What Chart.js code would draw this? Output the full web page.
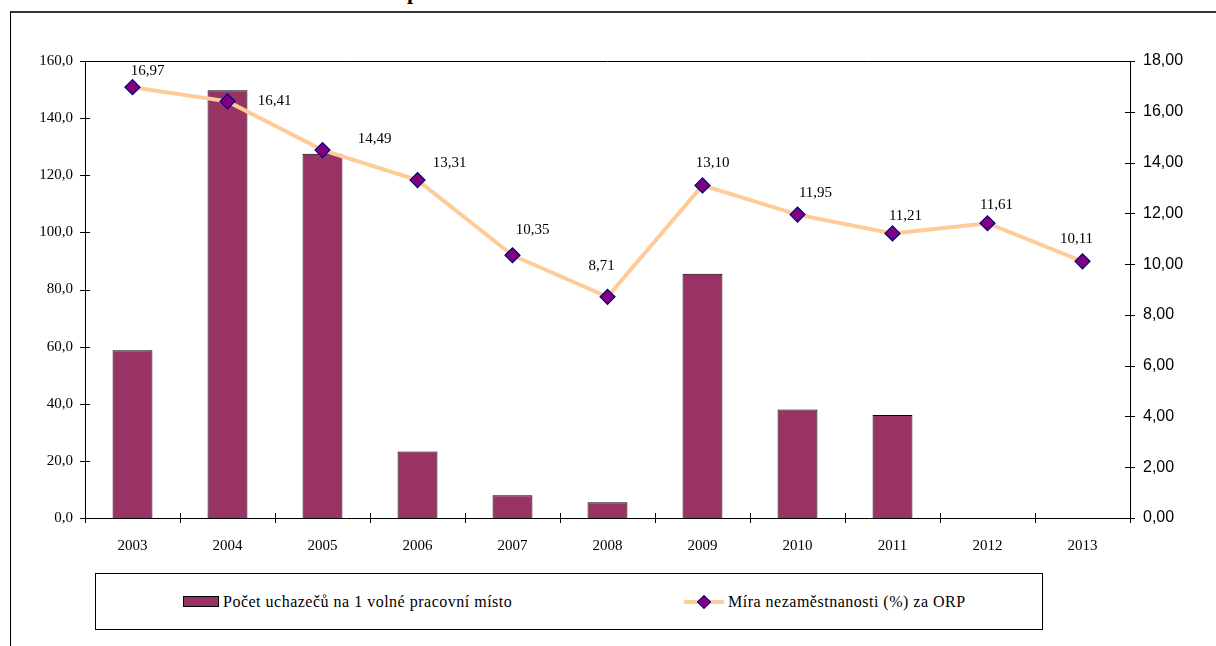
<!DOCTYPE html>
<html>
<head>
<meta charset="utf-8">
<script src="https://cdn.jsdelivr.net/npm/chart.js@4.4.1/dist/chart.umd.min.js"></script>
<style>
  body { margin: 0; background: #fff; font-family: "Liberation Serif", serif; overflow: hidden; }
  #wrap { position: relative; width: 1216px; height: 646px; overflow: hidden; }
  #frame { position: absolute; left: 10px; top: 11px; width: 1206px; height: 640px;
           border-left: 1px solid #000; border-top: 2px solid #333; }
  #title { position: absolute; left: 407px; top: -21px; font: bold 22px "Liberation Serif", serif; }
  #chart { position: absolute; left: 0; top: 0; }
  #legend { position: absolute; left: 95px; top: 573px; width: 946px; height: 55px;
            border: 1px solid #000; background: #fff; font: 16px "Liberation Serif", serif; letter-spacing: 0.5px; }
  .item { position: absolute; top: 0; height: 55px; display: flex; align-items: center; }
  .barsw { width: 34px; height: 9px; border: 1px solid #000; margin-right: 4px; }
  .linesw { position: relative; width: 40px; height: 10px; margin-right: 4px; }
  .linesw .ln { position: absolute; left: 0; right: 0; top: 3px; height: 4px; }
  .linesw .dm { position: absolute; left: 15px; top: 0px; width: 8px; height: 8px;
                transform: rotate(45deg); border: 1px solid #000080; }
</style>
</head>
<body>
<div id="wrap">
  <div id="title">p</div>
  <div id="frame"></div>
  <canvas id="chart" width="1216" height="646"></canvas>
  <div id="legend"></div>
</div>
<script>
// Data
const years = ['2003', '2004', '2005', '2006', '2007', '2008', '2009', '2010', '2011', '2012', '2013'];
const applicantsPerVacancy = [58.7, 149.8, 127.5, 23.3, 8.0, 5.5, 85.5, 38.0, 36.1, null, null];
const unemploymentRate = [16.97, 16.41, 14.49, 13.31, 10.35, 8.71, 13.10, 11.95, 11.21, 11.61, 10.11];

// label offsets (px) from each marker, as placed in the original
const labelOffsets = [[15, -16], [47, 0], [52, -11], [32, -17], [20, -25], [-6, -31], [10, -22], [18, -22], [13, -17], [9, -18], [-6, -22]];

const barColor = '#993366';
const lineColor = '#FFCC99';
const markerFill = '#800080';
const markerBorder = '#000080';

const serif = '"Liberation Serif", "Times New Roman", serif';
const sans = '"Liberation Sans", Arial, sans-serif';

const fmt = (v, d) => v.toFixed(d).replace('.', ',');

// ticks that cross the axis lines, plus the top frame line
const axisDecor = {
    id: 'axisDecor',
    afterDraw(chart) {
        const ctx = chart.ctx;
        const a = chart.chartArea;
        ctx.save();
        ctx.strokeStyle = '#000';
        ctx.lineWidth = 1;
        ctx.beginPath();
        ctx.moveTo(a.left, a.top + 0.5);
        ctx.lineTo(a.right, a.top + 0.5);
        const y = chart.scales.y;
        y.ticks.forEach((t, i) => {
            const p = Math.round(y.getPixelForTick(i)) + 0.5;
            ctx.moveTo(a.left - 5, p); ctx.lineTo(a.left + 5, p);
        });
        const y2 = chart.scales.y2;
        y2.ticks.forEach((t, i) => {
            const p = Math.round(y2.getPixelForTick(i)) + 0.5;
            ctx.moveTo(a.right - 5, p); ctx.lineTo(a.right + 5, p);
        });
        for (let i = 0; i <= years.length; i++) {
            const p = Math.round(a.left + (a.right - a.left) * i / years.length) + 0.5;
            ctx.moveTo(p, a.bottom - 5); ctx.lineTo(p, a.bottom + 5);
        }
        ctx.stroke();
        ctx.restore();
    }
};

// value labels next to the line markers
const valueLabels = {
    id: 'valueLabels',
    afterDatasetsDraw(chart) {
        const ctx = chart.ctx;
        const meta = chart.getDatasetMeta(1);
        ctx.save();
        ctx.font = '15px ' + serif;
        ctx.fillStyle = '#000';
        ctx.textAlign = 'center';
        ctx.textBaseline = 'middle';
        meta.data.forEach((pt, i) => {
            const off = labelOffsets[i];
            ctx.fillText(fmt(unemploymentRate[i], 2), pt.x + off[0], pt.y + off[1]);
        });
        ctx.restore();
    }
};

const chart = new Chart(document.getElementById('chart'), {
    data: {
        labels: years,
        datasets: [{
            type: 'bar',
            label: 'Počet uchazečů na 1 volné pracovní místo',
            data: applicantsPerVacancy,
            backgroundColor: barColor,
            borderColor: '#000',
            borderWidth: 1,
            barPercentage: 0.42,
            categoryPercentage: 1,
            yAxisID: 'y',
            order: 2
        }, {
            type: 'line',
            label: 'Míra nezaměstnanosti (%) za ORP',
            data: unemploymentRate,
            borderColor: lineColor,
            borderWidth: 4,
            tension: 0,
            pointStyle: 'rectRot',
            pointRadius: 7.5,
            pointBackgroundColor: markerFill,
            pointBorderColor: markerBorder,
            pointBorderWidth: 1.2,
            yAxisID: 'y2',
            order: 1
        }]
    },
    options: {
        responsive: false,
        animation: false,
        layout: { padding: { top: 61, left: 0, right: 0, bottom: 0 } },
        plugins: {
            legend: { display: false },
            tooltip: { enabled: false }
        },
        scales: {
            x: {
                grid: { display: false, drawTicks: false },
                border: { display: true, color: '#000', width: 1 },
                ticks: { color: '#000', font: { family: serif, size: 15 }, padding: 19, maxRotation: 0 },
                afterFit: (s) => { s.height = 128; }
            },
            y: {
                position: 'left',
                min: 0, max: 160,
                grid: { display: false, drawTicks: false },
                border: { display: true, color: '#000', width: 1 },
                ticks: { stepSize: 20, color: '#000', font: { family: serif, size: 15 }, padding: 12,
                         callback: (v) => fmt(v, 1) },
                afterFit: (s) => { s.width = 85; }
            },
            y2: {
                position: 'right',
                min: 0, max: 18,
                grid: { display: false, drawTicks: false },
                border: { display: true, color: '#000', width: 1 },
                ticks: { stepSize: 2, color: '#000', font: { family: sans, size: 16 }, padding: 13,
                         callback: (v) => fmt(v, 2) },
                afterFit: (s) => { s.width = 86; }
            }
        }
    },
    plugins: [axisDecor, valueLabels]
});

// HTML legend built from the datasets
const legend = document.getElementById('legend');
const ds = chart.data.datasets;
legend.innerHTML =
    '<div class="item" style="left:87px"><div class="barsw" style="background:' + ds[0].backgroundColor + '"></div>' + ds[0].label + '</div>' +
    '<div class="item" style="left:588px"><div class="linesw"><div class="ln" style="background:' + ds[1].borderColor + '"></div>' +
    '<div class="dm" style="background:' + ds[1].pointBackgroundColor + '"></div></div>' + ds[1].label + '</div>';
</script>
</body>
</html>
